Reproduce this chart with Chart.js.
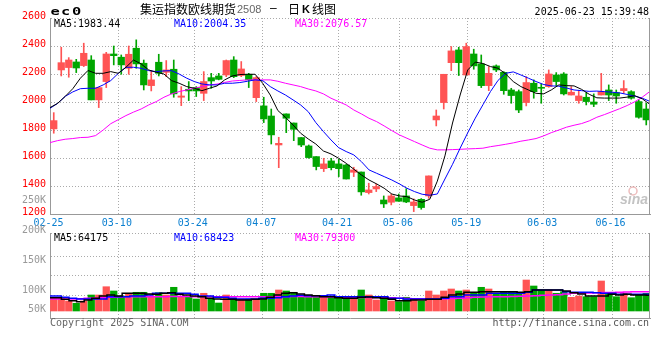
<!DOCTYPE html>
<html>
<head>
<meta charset="utf-8">
<script src="https://cdn.jsdelivr.net/npm/chart.js@4.4.1/dist/chart.umd.min.js"></script>
<style>
  html, body { margin: 0; padding: 0; background: #fff; }
  #wrap { position: relative; width: 660px; height: 360px; }
  canvas { position: absolute; left: 0; top: 0; }
</style>
</head>
<body>
<div id="wrap">
  <canvas id="kline" width="660" height="360"></canvas>
  <canvas id="vol" width="660" height="360"></canvas>
</div>
<script>
// trading days shown on the chart
const dates = ['02-25','02-26','02-27','02-28','03-03','03-04','03-05','03-06','03-07','03-10',
  '03-11','03-12','03-13','03-14','03-17','03-18','03-19','03-20','03-21','03-24',
  '03-25','03-26','03-27','03-28','03-31','04-01','04-02','04-03','04-07','04-08',
  '04-09','04-10','04-11','04-14','04-15','04-16','04-17','04-18','04-21','04-22',
  '04-23','04-24','04-25','04-28','04-29','04-30','05-06','05-07','05-08','05-09',
  '05-12','05-13','05-14','05-15','05-16','05-19','05-20','05-21','05-22','05-23',
  '05-26','05-27','05-28','05-29','05-30','06-03','06-04','06-05','06-06','06-09',
  '06-10','06-11','06-12','06-13','06-16','06-17','06-18','06-19','06-20','06-23'];
const dateTicks = ['02-25','03-10','03-24','04-07','04-21','05-06','05-19','06-03','06-16'];
const priceTicks = [1200, 1400, 1600, 1800, 2000, 2200, 2400, 2600];
const volTickLabels = ['250K', '200K', '150K', '100K', '50K'];

const opens = [1808,2229,2246,2286,2260,2300,2015,2146,2343,2320,
  2241,2384,2277,2117,2284,2212,2234,2034,2091,2103,
  2062,2174,2186,2193,2300,2189,2198,2031,1972,1900,
  1693,1915,1850,1746,1686,1610,1524,1579,1558,1550,
  1498,1500,1353,1379,1300,1284,1315,1329,1260,1305,
  1329,1872,1996,2281,2372,2193,2343,2272,2117,2258,
  2212,2086,2074,1996,2134,2105,2110,2193,2200,2050,
  2010,2034,2000,2050,2086,2067,2081,2074,2003,1950];
const closes = [1867,2281,2300,2243,2348,2015,2103,2343,2331,2265,
  2341,2272,2122,2158,2205,2229,2058,2043,2079,2079,
  2146,2150,2162,2296,2181,2236,2158,2174,1879,1765,
  1705,1884,1805,1693,1603,1539,1558,1531,1524,1450,
  1515,1358,1372,1396,1272,1329,1291,1286,1286,1246,
  1472,1900,2198,2365,2281,2396,2258,2117,2205,2229,
  2081,2046,1943,2139,2074,2098,2200,2146,2058,2070,
  2043,2003,1984,2074,2050,2043,2096,2027,1891,1872];
const highs = [1924,2391,2317,2305,2420,2331,2103,2355,2400,2336,
  2400,2444,2300,2222,2341,2296,2300,2110,2146,2110,
  2217,2205,2205,2300,2324,2289,2205,2181,2034,1950,
  1748,1915,1850,1746,1693,1610,1598,1598,1591,1555,
  1534,1500,1420,1415,1329,1343,1343,1381,1308,1310,
  1472,1943,2198,2396,2391,2420,2377,2336,2253,2265,
  2217,2098,2086,2181,2158,2129,2229,2210,2210,2110,
  2081,2067,2058,2205,2122,2086,2153,2081,2015,1991];
const lows = [1777,2186,2177,2210,2253,2015,1960,2103,2265,2198,
  2198,2241,2086,2079,2186,2181,2034,1974,2010,2039,
  2010,2098,2158,2181,2174,2181,2103,2003,1853,1700,
  1531,1781,1724,1681,1598,1515,1503,1515,1467,1450,
  1467,1334,1343,1360,1246,1265,1291,1281,1217,1234,
  1312,1829,1950,2224,2189,2193,2234,2103,2081,2217,
  2055,1991,1924,1972,2027,1991,2105,2117,2050,2050,
  1991,1979,1967,2050,2010,1991,2062,2020,1884,1836];

const ma5 = [1960,1990,2040,2095,2170,2225,2205,2205,2217,2205,
  2248,2300,2272,2229,2212,2200,2153,2134,2110,2098,
  2081,2098,2115,2158,2186,2196,2198,2198,2134,2050,
  1939,1891,1836,1777,1736,1700,1650,1629,1598,1562,
  1520,1479,1443,1415,1384,1343,1329,1324,1300,1284,
  1305,1435,1615,1850,2050,2229,2285,2275,2253,2241,
  2200,2146,2110,2086,2062,2058,2086,2122,2117,2115,
  2090,2055,2030,2028,2028,2028,2035,2045,2022,1983];
const ma10 = [1955,1990,2040,2072,2095,2098,2098,2122,2153,2205,
  2248,2248,2241,2224,2217,2222,2224,2200,2170,2146,
  2129,2122,2122,2134,2134,2139,2148,2158,2153,2110,
  2079,2050,2015,1979,1931,1853,1789,1729,1674,1646,
  1622,1574,1515,1491,1467,1443,1415,1384,1360,1341,
  1334,1343,1450,1555,1670,1780,1885,1980,2075,2155,
  2205,2215,2193,2170,2146,2125,2115,2113,2100,2086,
  2081,2076,2078,2074,2070,2065,2054,2042,2027,2004];
const ma30 = [1710,1724,1734,1739,1746,1748,1760,1800,1845,1874,
  1903,1928,1950,1979,2003,2034,2058,2074,2086,2098,
  2110,2122,2128,2140,2150,2154,2158,2158,2158,2158,
  2148,2134,2122,2110,2093,2079,2058,2027,2003,1979,
  1943,1915,1884,1860,1829,1796,1765,1741,1717,1693,
  1670,1658,1658,1660,1662,1665,1667,1670,1681,1689,
  1698,1708,1720,1729,1739,1758,1781,1800,1820,1834,
  1846,1865,1891,1910,1931,1952,1975,2002,2035,2076];

const volumes = [56200,56200,41000,31600,41000,65600,65600,99600,82000,61500,
  72600,76700,76700,61500,75000,65600,97200,61500,58600,49200,
  72600,49200,32800,65600,49200,49200,49200,49200,72600,72600,
  86100,82000,76700,61500,61500,61500,61500,60300,52100,52100,
  56200,86100,65600,45100,56200,41000,38100,56200,45100,41000,
  82000,65600,82000,90200,82000,86100,76700,97200,90200,72600,
  76700,76700,76700,127100,102500,86100,86100,72600,79100,56200,
  61500,58600,58600,123000,72600,58600,72600,54500,66800,72600];
const volMa5 = [54500,54500,48000,42200,38100,45100,52100,61500,65600,61500,
  72600,72600,72600,69700,68500,72600,75000,68500,65600,61500,
  58600,52100,49200,48000,48000,45100,45100,48000,49200,56200,
  65600,72600,75000,69700,65600,62700,58600,58600,54500,52100,
  52100,56200,57400,54500,52100,48000,42200,42200,45100,45100,
  48000,48000,56200,65600,69700,76700,76700,79100,79100,79100,
  79100,79100,76700,79100,86100,86100,86100,86100,82000,75000,
  69700,61500,61500,61500,68500,65600,68500,65600,65600,64175];
const volMa10 = [61500,61500,56200,52100,49200,49200,49200,49200,58600,58600,
  58600,61500,61500,65600,72600,72600,72600,72600,72600,68500,
  61500,61500,56200,56200,52100,49200,49200,49200,52100,52100,
  54500,58600,61500,64400,62700,62700,62700,65600,58600,58600,
  58600,58600,58600,58600,58600,52100,52100,49200,49200,49200,
  49200,49200,52100,58600,58600,65600,65600,65600,72600,72600,
  72600,72600,72600,76700,86100,86100,86100,86100,79100,76700,
  76700,76700,75000,72600,72600,68500,68500,68500,68500,68423];
const volMa30 = [49200,49200,49200,49500,50000,52000,53300,54500,56000,57400,
  58000,58600,58600,58600,58600,58600,59000,59000,59000,58600,
  58600,58600,58600,58600,58600,58600,58600,58600,58600,58600,
  58600,58600,59000,59000,58600,58600,58600,57400,56200,55400,
  55400,55400,55400,55400,55400,54000,52500,51200,50400,50400,
  50400,50400,50400,51200,52500,54500,56200,57400,58600,58600,
  58600,59500,60500,61500,62700,64400,65600,66800,69700,72600,
  72600,73800,74600,75400,76200,77000,77800,78500,79000,79300];

const priceLegend = ['MA5:1983.44', 'MA10:2004.35', 'MA30:2076.57'];
const volLegend = ['MA5:64175', 'MA10:68423', 'MA30:79300'];

const UP = '#ff5454', DOWN = '#00a600';
const GRID = '#aaaaaa', FRAME = '#999999';
const MONO = '"DejaVu Sans Mono", monospace';
const candleColors = opens.map((o, i) => closes[i] >= o ? UP : DOWN);

Chart.defaults.font.family = MONO;
Chart.defaults.font.size = 10;

const gridColor = c => dateTicks.includes(dates[c.index]) ? GRID : 'rgba(0,0,0,0)';

// solid right edge of each panel
const rightEdge = {
  id: 'rightEdge',
  afterDraw(chart) {
    const { ctx, chartArea: a } = chart;
    ctx.save();
    ctx.strokeStyle = FRAME;
    ctx.lineWidth = 1;
    ctx.beginPath();
    ctx.moveTo(a.right - 0.5, a.top);
    ctx.lineTo(a.right - 0.5, a.bottom + 1);
    ctx.stroke();
    ctx.restore();
  }
};

const legendColors = ['#000000', '#0000ff', '#ff00ff'];
const legendX = [54, 174, 295];

const priceText = {
  id: 'priceText',
  afterDraw(chart) {
    const ctx = chart.ctx;
    ctx.save();
    ctx.textBaseline = 'alphabetic';
    ctx.fillStyle = '#000';
    ctx.font = 'bold 11px ' + MONO;
    [['e', 50.5], ['c', 61], ['0', 72]].forEach(([ch, x]) => {
      ctx.save();
      ctx.translate(x, 15);
      ctx.scale(1.4, 1);
      ctx.fillText(ch, 0, 0);
      ctx.restore();
    });

    ctx.textBaseline = 'middle';
    ctx.font = '12px "Noto Sans CJK SC"';
    ctx.fillText('集运指数欧线期货', 140, 9);
    ctx.fillStyle = '#666';
    ctx.font = '11px "Liberation Sans"';
    ctx.fillText('2508', 237, 9.5);
    ctx.fillStyle = '#000';
    ctx.font = '12px "Liberation Sans"';
    ctx.fillText('–', 270, 9);
    ctx.font = '12px "Noto Sans CJK SC"';
    ctx.fillText('日', 288, 9);
    ctx.font = 'bold 11px "Liberation Sans"';
    ctx.fillText('K', 302, 9.5);
    ctx.font = '12px "Noto Sans CJK SC"';
    ctx.fillText('线图', 312, 9);

    ctx.font = '10px ' + MONO;
    ctx.textAlign = 'right';
    ctx.fillText('2025-06-23 15:39:48', 649, 12);
    ctx.textAlign = 'left';
    priceLegend.forEach((t, i) => {
      ctx.fillStyle = legendColors[i];
      ctx.fillText(t, legendX[i], 24);
    });

    // sina watermark
    ctx.strokeStyle = 'rgba(230,160,160,0.7)';
    ctx.lineWidth = 1.5;
    ctx.beginPath();
    ctx.arc(633, 191, 4, 0, Math.PI * 2);
    ctx.stroke();
    ctx.fillStyle = 'rgba(185,185,185,0.85)';
    ctx.font = 'italic bold 14px "Liberation Sans"';
    ctx.fillText('sina', 620, 200);
    ctx.restore();
  }
};

const volText = {
  id: 'volText',
  afterDraw(chart) {
    const ctx = chart.ctx;
    ctx.save();
    ctx.font = '10px ' + MONO;
    ctx.textBaseline = 'middle';
    volLegend.forEach((t, i) => {
      ctx.fillStyle = legendColors[i];
      ctx.fillText(t, legendX[i], 238.5);
    });
    ctx.fillStyle = '#999';
    ctx.textAlign = 'right';
    const ys = [200.7, 230, 260.7, 290.7, 309.5];
    volTickLabels.forEach((t, i) => ctx.fillText(t, 46, ys[i]));
    ctx.fillStyle = '#666';
    ctx.textAlign = 'left';
    ctx.fillText('Copyright 2025 SINA.COM', 50, 323);
    ctx.fillStyle = '#555';
    ctx.textAlign = 'right';
    ctx.fillText('http://finance.sina.com.cn', 649, 323);
    ctx.restore();
  }
};

const lineSet = (label, data, color, width, stepped) => ({
  type: 'line', label, data, xAxisID: 'xg', borderColor: color, borderWidth: width,
  pointRadius: 0, tension: 0, stepped: stepped || false, order: 0
});

new Chart(document.getElementById('kline'), {
  data: {
    labels: dates,
    datasets: [
      lineSet('MA5', ma5, '#000000', 1),
      lineSet('MA10', ma10, '#0000ff', 1),
      lineSet('MA30', ma30, '#ff00ff', 1),
      {
        type: 'bar', label: 'body', data: opens.map((o, i) => [o, closes[i]]),
        backgroundColor: candleColors, barThickness: 6.6,
        grouped: false, minBarLength: 1, order: 1
      },
      {
        type: 'bar', label: 'wick', data: lows.map((l, i) => [l, highs[i]]),
        backgroundColor: candleColors, barThickness: 1, grouped: false, order: 2
      }
    ]
  },
  options: {
    responsive: false, animation: false, events: [],
    layout: { padding: { left: 0, right: 10, top: 18, bottom: 125 } },
    plugins: { legend: { display: false }, tooltip: { enabled: false } },
    scales: {
      x: { type: 'category', offset: true, display: false },
      xg: {
        type: 'category', position: 'bottom', offset: false,
        grid: { color: gridColor, drawTicks: false },
        border: { display: true, color: FRAME, dash: [1, 2] },
        ticks: {
          autoSkip: false, maxRotation: 0, minRotation: 0, padding: 3, labelOffset: -1.5,
          color: '#0a7fd0', font: { family: MONO, size: 10 },
          callback: v => dateTicks.includes(dates[v]) ? dates[v] : ''
        },
        afterFit: s => { s.height = 21; }
      },
      y: {
        min: 1200, max: 2600,
        afterBuildTicks: s => { s.ticks = priceTicks.map(v => ({ value: v })); },
        grid: { color: GRID, drawTicks: false },
        border: { display: true, color: FRAME, dash: [1, 2] },
        ticks: { color: '#ff0000', padding: 4, labelOffset: -1.5, font: { family: MONO, size: 10 }, callback: v => String(v) },
        afterFit: s => { s.width = 50; }
      }
    }
  },
  plugins: [rightEdge, priceText]
});

new Chart(document.getElementById('vol'), {
  data: {
    labels: dates,
    datasets: [
      lineSet('MA5', volMa5, '#000000', 1.5, 'middle'),
      lineSet('MA10', volMa10, '#0000ff', 1.5, 'middle'),
      lineSet('MA30', volMa30, '#ff00ff', 1.5, 'middle'),
      {
        type: 'bar', label: 'volume', data: volumes, backgroundColor: candleColors,
        barThickness: 6.6, grouped: false, order: 1
      }
    ]
  },
  options: {
    responsive: false, animation: false, events: [],
    layout: { padding: { left: 0, right: 10, top: 233, bottom: 42 } },
    plugins: { legend: { display: false }, tooltip: { enabled: false } },
    scales: {
      x: { type: 'category', offset: true, display: false },
      xg: {
        type: 'category', position: 'bottom', offset: false,
        grid: { color: gridColor, drawTicks: false },
        border: { display: true, color: FRAME, dash: [1, 2] },
        ticks: { display: false, autoSkip: false, maxRotation: 0 },
        afterFit: s => { s.height = 0; }
      },
      y: {
        min: -28700, max: 319800,
        afterBuildTicks: s => { s.ticks = [319800, 225500, 144700, 64000].map(v => ({ value: v })); },
        grid: { color: GRID, drawTicks: false },
        border: { display: true, color: FRAME, dash: [1, 2] },
        ticks: { display: false },
        afterFit: s => { s.width = 50; }
      }
    }
  },
  plugins: [rightEdge, volText]
});
</script>
</body>
</html>
